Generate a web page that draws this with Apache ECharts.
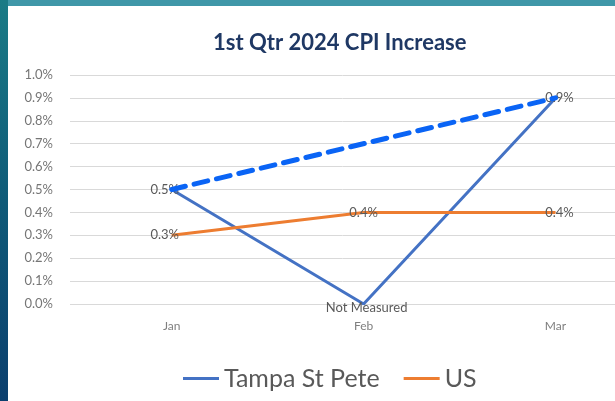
<!DOCTYPE html>
<html>
<head>
<meta charset="utf-8">
<script src="https://cdn.jsdelivr.net/npm/echarts@6/dist/echarts.min.js"></script>
<style>
  html, body {
    margin: 0;
    padding: 0;
    width: 615px;
    height: 401px;
    overflow: hidden;
    background: linear-gradient(180deg, #1a7b86 0%, #0f5a78 50%, #0b3f6e 100%);
  }
  #topstrip {
    position: absolute;
    left: 8px;
    top: 0;
    width: 607px;
    height: 6px;
    background: #3f97a8;
  }
  #chart {
    position: absolute;
    left: 8px;
    top: 6px;
    width: 607px;
    height: 395px;
    background: #ffffff;
  }
</style>
</head>
<body>
<div id="topstrip"></div>
<div id="chart"></div>
<script>
const months = ['Jan', 'Feb', 'Mar']
const tampaValues = [0.5, 0, 0.9]
const tampaLabels = ['0.5%', 'Not Measured', '0.9%']
const usValues = [0.3, 0.4, 0.4]
const usLabels = ['0.3%', '0.4%', '0.4%']
// the hand-drawn dashed trend, Jan to Mar skipping Feb
const trendValues = [0.5, null, 0.9]

// label nudges, the way Excel placed them
const tampaShift = [[-7, 0], [3, 4], [4, 0]]
const usShift = [[-7, 0], [0, 0], [4, 0]]

const font = 'Lato, "Open Sans", sans-serif'

const toPoints = (values, labels, shift) => values.map((v, i) => ({
  value: [i, v],
  label: { formatter: labels[i], offset: shift[i] }
}))

const chart = echarts.init(document.getElementById('chart'))

const dataLabel = {
  show: true,
  position: 'inside',
  color: '#595959',
  fontSize: 13,
  fontFamily: font
}

chart.setOption({
  animation: false,
  title: {
    text: '1st Qtr 2024 CPI Increase',
    left: 200,
    top: 21,
    textStyle: {
      color: '#1f3864',
      fontSize: 22,
      fontWeight: 'bold',
      fontFamily: font
    }
  },
  grid: {
    left: 62,
    right: 0,
    top: 69,
    bottom: 97
  },
  legend: {
    data: ['Tampa St Pete', 'US'],
    top: 355,
    left: 170,
    icon: 'rect',
    itemWidth: 36,
    itemHeight: 3,
    itemGap: 24,
    textStyle: {
      color: '#595959',
      fontSize: 25,
      fontFamily: font
    }
  },
  xAxis: {
    type: 'value',
    min: -0.53,
    max: 2.31,
    axisLine: { show: false },
    axisTick: { show: false },
    splitLine: { show: false },
    axisLabel: {
      customValues: [0, 1, 2],
      formatter: v => months[Math.round(v)],
      color: '#7f7f7f',
      fontSize: 12,
      fontFamily: font,
      margin: 16
    }
  },
  yAxis: {
    type: 'value',
    min: 0,
    max: 1,
    interval: 0.1,
    axisLine: { show: false },
    axisTick: { show: false },
    splitLine: { lineStyle: { color: '#d9d9d9', width: 1 } },
    axisLabel: {
      formatter: v => v.toFixed(1) + '%',
      color: '#767676',
      fontSize: 13,
      fontFamily: font,
      margin: 17
    }
  },
  series: [
    {
      name: 'Tampa St Pete',
      type: 'line',
      data: toPoints(tampaValues, tampaLabels, tampaShift),
      symbol: 'circle',
      symbolSize: 0,
      itemStyle: { color: '#4472c4' },
      lineStyle: { color: '#4472c4', width: 3 },
      label: dataLabel,
      z: 2
    },
    {
      name: 'US',
      type: 'line',
      data: toPoints(usValues, usLabels, usShift),
      symbol: 'circle',
      symbolSize: 0,
      itemStyle: { color: '#ed7d31' },
      lineStyle: { color: '#ed7d31', width: 3 },
      label: dataLabel,
      z: 3
    },
    {
      name: 'trend',
      type: 'line',
      data: trendValues.map((v, i) => [i, v]).filter(d => d[1] !== null),
      symbol: 'none',
      lineStyle: { color: '#0a64f5', width: 5, type: [14, 9], cap: 'round' },
      z: 4
    }
  ]
})
</script>
</body>
</html>
